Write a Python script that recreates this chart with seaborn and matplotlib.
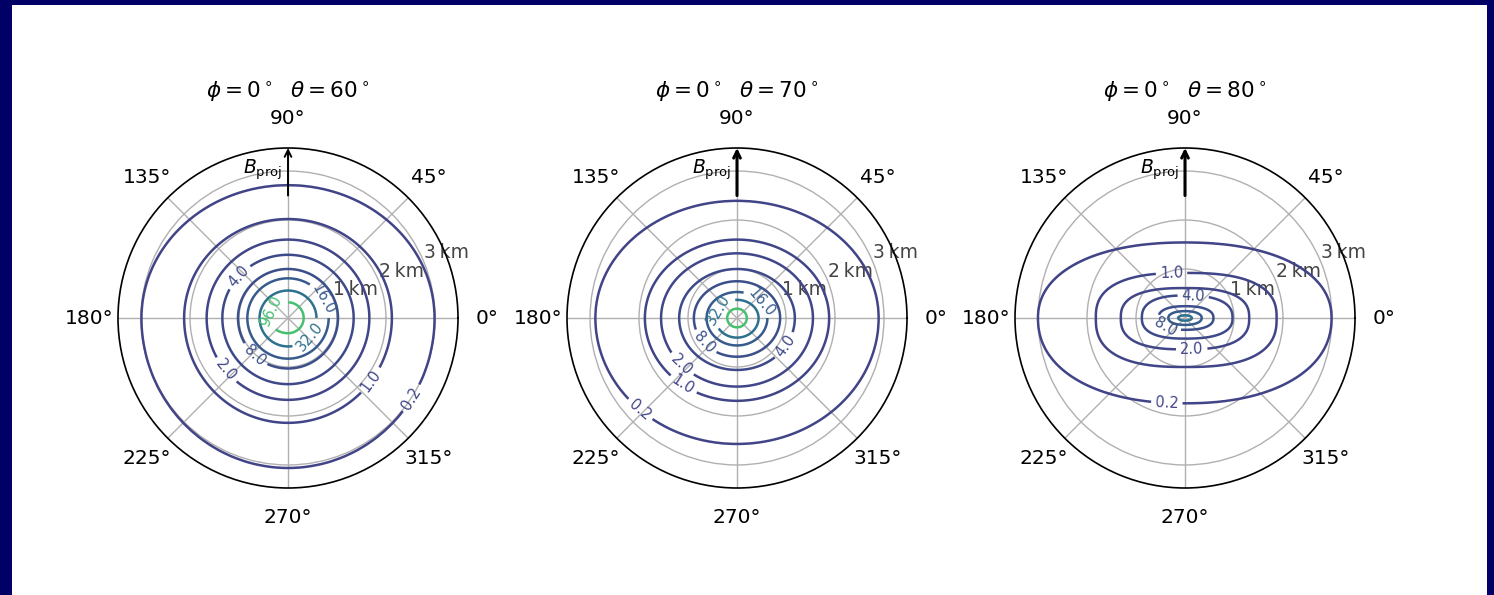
import numpy as np
import matplotlib
matplotlib.use("Agg")
import matplotlib.pyplot as plt
from matplotlib.colors import Normalize
from matplotlib.patches import Rectangle
import seaborn as sns

sns.set_theme(style="white")
plt.rcParams["font.family"] = ["DejaVu Sans"]
plt.rcParams["mathtext.fontset"] = "dejavusans"
plt.rcParams["text.color"] = "black"

# ---------------------------------------------------------------- data
levels = [0.2, 1.0, 2.0, 4.0, 8.0, 16.0, 32.0, 96.0]
view_phi = [0, 0, 0]
view_theta = [60, 70, 80]
r_ticks = [1, 2, 3]
r_tick_labels = ["1\u2009km", "2\u2009km", "3\u2009km"]

# extent of each contour level (km) towards 0°, 90°, 180° and 270°
t60_right  = [2.99, 2.12, 1.66, 1.34, 1.02, 0.83, 0.58, 0.32]
t60_top    = [2.71, 2.02, 1.60, 1.29, 1.00, 0.81, 0.56, 0.32]
t60_left   = [2.99, 2.12, 1.66, 1.34, 1.02, 0.83, 0.58, 0.38]
t60_bottom = [3.06, 2.14, 1.67, 1.35, 1.03, 0.83, 0.58, 0.31]
t60_square = [2.0, 2.0, 2.0, 2.0, 2.0, 2.0, 2.0, 2.0]
t60_peak = 300.0

t70_right  = [2.89, 1.88, 1.55, 1.18, 0.88, 0.62, 0.44, 0.20]
t70_top    = [2.39, 1.60, 1.32, 1.00, 0.75, 0.53, 0.37, 0.19]
t70_left   = [2.89, 1.88, 1.55, 1.18, 0.88, 0.62, 0.44, 0.20]
t70_bottom = [2.57, 1.69, 1.40, 1.06, 0.79, 0.56, 0.40, 0.19]
t70_square = [2.0, 2.0, 2.0, 2.0, 2.0, 2.0, 2.0, 2.0]
t70_peak = 300.0

t80_right  = [2.99, 1.87, 1.31, 0.97, 0.58, 0.34, 0.14]
t80_top    = [1.54, 0.92, 0.61, 0.46, 0.24, 0.14, 0.055]
t80_left   = [3.00, 1.82, 1.31, 0.88, 0.54, 0.34, 0.14]
t80_bottom = [1.74, 1.00, 0.64, 0.42, 0.24, 0.14, 0.055]
t80_square = [2.2, 2.6, 2.6, 2.5, 2.4, 2.2, 2.0]
t80_peak = 45.0

# contour label anchors: level, angle (deg), radius (km)
t60_lab_level = [0.2, 1.0, 2.0, 4.0, 8.0, 16.0, 32.0, 96.0]
t60_lab_angle = [-33, -37, 220, 140, 228, 28, -40, 159]
t60_lab_r     = [2.91, 2.11, 1.65, 1.33, 1.01, 0.86, 0.56, 0.37]

t70_lab_level = [0.2, 1.0, 2.0, 4.0, 8.0, 16.0, 32.0]
t70_lab_angle = [223, 231, 220, -30, 217, 33, 155]
t70_lab_r     = [2.62, 1.72, 1.47, 1.14, 0.85, 0.57, 0.45]

t80_lab_level = [0.2, 1.0, 2.0, 4.0, 8.0]
t80_lab_angle = [257.5, 107, 282, 70, 203]
t80_lab_r     = [1.72, 0.94, 0.66, 0.49, 0.42]

panels = [
    dict(right=t60_right, top=t60_top, left=t60_left, bottom=t60_bottom,
         square=t60_square, peak=t60_peak,
         lab=(t60_lab_level, t60_lab_angle, t60_lab_r)),
    dict(right=t70_right, top=t70_top, left=t70_left, bottom=t70_bottom,
         square=t70_square, peak=t70_peak,
         lab=(t70_lab_level, t70_lab_angle, t70_lab_r)),
    dict(right=t80_right, top=t80_top, left=t80_left, bottom=t80_bottom,
         square=t80_square, peak=t80_peak,
         lab=(t80_lab_level, t80_lab_angle, t80_lab_r)),
]
arrow_widths = [1.4, 2.2, 2.2]

rmax = 3.47
theta = np.linspace(0, 2 * np.pi, 721)
radius = np.linspace(0, rmax, 700)


def level_radius(th, right, top, left, bottom, n):
    """Radius of a closed level curve through the four axis extents."""
    c, s = np.cos(th), np.sin(th)
    a = np.where(c >= 0, right, left)
    b = np.where(s >= 0, top, bottom)
    return ((np.abs(c) / a) ** n + (np.abs(s) / b) ** n) ** (-1.0 / n)


def build_field(p):
    nlev = len(p["right"])
    lv = np.log10(levels[:nlev])
    rr = np.array([level_radius(theta, p["right"][k], p["top"][k],
                                p["left"][k], p["bottom"][k], p["square"][k])
                   for k in range(nlev)])
    z = np.empty((len(radius), len(theta)))
    for j in range(len(theta)):
        xp = np.concatenate([[0.0], rr[::-1, j], [8.0]])
        fp = np.concatenate([[np.log10(p["peak"])], lv[::-1], [lv[0] - 1.2]])
        z[:, j] = 10 ** np.interp(radius, xp, fp)
    return z


cmap = sns.color_palette("viridis", as_cmap=True)
norm = Normalize(vmin=-38, vmax=152)

W, H = 1494, 595
fig = plt.figure(figsize=(W / 100, H / 100), dpi=100)
fig.patch.set_facecolor("#000066")
fig.patches.append(Rectangle((12 / W, 0), (1487 - 12) / W, (H - 5) / H,
                             transform=fig.transFigure, facecolor="white",
                             edgecolor="none", zorder=-10))

centers_x = [288, 737, 1185]
cy = 318
rpix = 170
TH, RR = np.meshgrid(theta, radius)

for i, p in enumerate(panels):
    ax = fig.add_axes([(centers_x[i] - rpix) / W, (H - cy - rpix) / H,
                       2 * rpix / W, 2 * rpix / H], projection="polar")
    ax.set_facecolor("white")
    z = build_field(p)
    cs = ax.contour(TH, RR, z, levels=levels, cmap=cmap, norm=norm,
                    linewidths=1.8)
    lab_level, lab_angle, lab_r = p["lab"]
    manual = [(np.deg2rad(a), r) for a, r in zip(lab_angle, lab_r)]
    ax.clabel(cs, levels=lab_level, manual=manual, fmt="%.1f",
              fontsize=10.5, inline=True, inline_spacing=4)

    ax.set_rlim(0, rmax)
    ax.set_rticks(r_ticks)
    ax.set_yticklabels(r_tick_labels)
    ax.set_rlabel_position(22.5)
    ax.grid(True, color="#b0b0b0", linewidth=1.0)
    ax.tick_params(axis="y", labelcolor="#444444", labelsize=13.5)
    ax.tick_params(axis="x", labelcolor="black", labelsize=14.5, pad=8)
    ax.spines["polar"].set_color("black")
    ax.spines["polar"].set_linewidth(1.2)

    ax.annotate("", xy=(np.pi / 2, rmax), xytext=(np.pi / 2, 2.5),
                arrowprops=dict(arrowstyle="->", color="black",
                                lw=arrow_widths[i], shrinkA=0, shrinkB=0),
                annotation_clip=False)
    ax.text(0.426, 0.935, r"$B_{\rm proj}$", transform=ax.transAxes,
            ha="center", va="center", fontsize=13.5, color="black")
    ax.set_title(rf"$\phi=0^\circ$  $\theta={view_theta[i]}^\circ$",
                 fontsize=15.5, pad=8, color="black")

fig.savefig("out.png", dpi=100, facecolor=fig.get_facecolor())
